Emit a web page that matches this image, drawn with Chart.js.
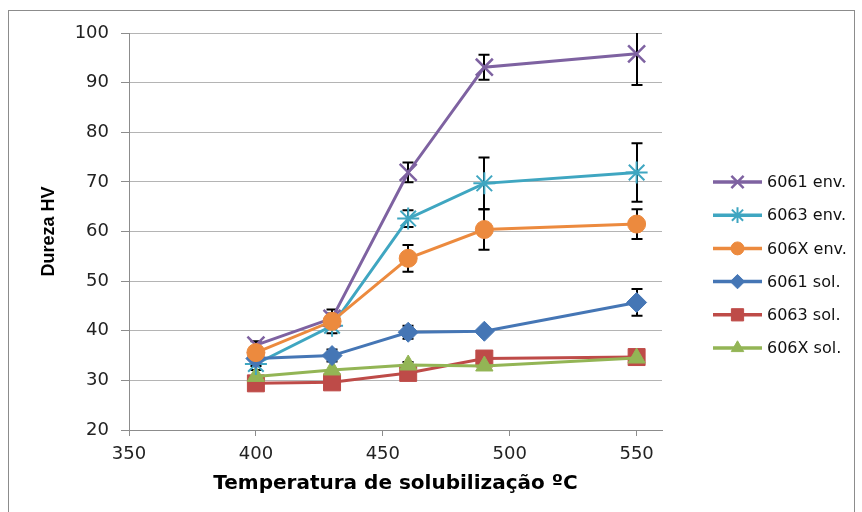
<!DOCTYPE html>
<html>
<head>
<meta charset="utf-8">
<script src="https://cdn.jsdelivr.net/npm/chart.js@4/dist/chart.umd.min.js"></script>
<style>
  body { margin: 0; background: #fff; }
  #wrap { position: relative; width: 862px; height: 512px; overflow: hidden; }
  #frame { position: absolute; left: 8px; top: 10px; width: 845px; height: 520px; border: 1px solid #8c8c8c; }
  canvas { position: absolute; left: 0; top: 0; }
</style>
</head>
<body>
<div id="wrap">
  <div id="frame"></div>
  <canvas id="hvChart" width="862" height="512"></canvas>
</div>
<script>
// Temperaturas de solubilização (ºC)
const temps = [400, 430, 460, 490, 550];

// Dureza HV por liga
const env6061 = [37.1, 42.5, 71.9, 93.1, 95.8];
const env6063 = [33.3, 41.0, 62.6, 69.7, 71.9];
const env606X = [35.6, 41.9, 54.6, 60.4, 61.5];
const sol6061 = [34.4, 35.0, 39.7, 39.9, 45.7];
const sol6063 = [29.4, 29.6, 31.5, 34.4, 34.7];
const sol606X = [30.8, 32.1, 33.1, 32.9, 34.5];

// Barras de erro (+/-)
const errEnv6061 = [0.8, 1.0, 2.0, 2.5, 6.3];
const errEnv6063 = [1.2, 0, 1.7, 5.2, 5.9];
const errEnv606X = [0, 2.4, 2.7, 4.1, 3.0];
const errSol6061 = [1.5, 1.2, 1.3, 0, 2.7];
const errSol6063 = [0, 0, 0, 0, 0];
const errSol606X = [0, 0, 0.6, 0, 0];

const seriesLabels = ['6061 env.', '6063 env.', '606X env.', '6061 sol.', '6063 sol.', '606X sol.'];
const yTicks = [20, 30, 40, 50, 60, 70, 80, 90, 100];
const xTicks = [350, 400, 450, 500, 550];

function pts(vals) {
    return temps.map((t, i) => ({ x: t, y: vals[i] }));
}

function makeSet(label, vals, errs, color, style, radius, bw, order) {
    return {
        label: label,
        data: pts(vals),
        errors: errs,
        borderColor: color,
        backgroundColor: color,
        borderWidth: 3,
        pointStyle: style,
        pointRadius: radius,
        pointBorderWidth: bw,
        pointBackgroundColor: color,
        pointBorderColor: color,
        tension: 0,
        order: order
    };
}

// Barras de erro desenhadas por baixo dos marcadores
const errorBars = {
    id: 'errorBars',
    beforeDatasetsDraw(chart) {
        const { ctx, chartArea, scales } = chart;
        ctx.save();
        ctx.beginPath();
        ctx.rect(chartArea.left, chartArea.top, chartArea.right - chartArea.left, chartArea.bottom - chartArea.top);
        ctx.clip();
        ctx.strokeStyle = '#000';
        ctx.lineWidth = 2;
        chart.data.datasets.forEach(ds => {
            ds.errors.forEach((e, i) => {
                if (!e) return;
                const px = Math.round(scales.x.getPixelForValue(ds.data[i].x));
                const top = scales.y.getPixelForValue(ds.data[i].y + e);
                const bot = scales.y.getPixelForValue(ds.data[i].y - e);
                ctx.beginPath();
                ctx.moveTo(px, top);
                ctx.lineTo(px, bot);
                ctx.moveTo(px - 5.5, top);
                ctx.lineTo(px + 5.5, top);
                ctx.moveTo(px - 5.5, bot);
                ctx.lineTo(px + 5.5, bot);
                ctx.stroke();
            });
        });
        ctx.restore();
    }
};

// Legenda à direita, estilo Excel (linha + marcador)
const sideLegend = {
    id: 'sideLegend',
    afterDraw(chart) {
        const ctx = chart.ctx;
        ctx.save();
        chart.data.datasets.forEach((ds, i) => {
            const y = 182 + i * 33.2;
            ctx.strokeStyle = ds.borderColor;
            ctx.lineWidth = 3.5;
            ctx.beginPath();
            ctx.moveTo(713, y);
            ctx.lineTo(762, y);
            ctx.stroke();
            ctx.fillStyle = ds.pointBackgroundColor;
            ctx.strokeStyle = ds.pointBorderColor;
            ctx.lineWidth = ds.pointBorderWidth;
            Chart.helpers.drawPoint(ctx, {
                pointStyle: ds.pointStyle,
                radius: ds.pointRadius * 0.72,
                rotation: 0,
                borderWidth: ds.pointBorderWidth
            }, 737.5, y);
            ctx.fillStyle = '#111';
            ctx.font = '16px "DejaVu Sans"';
            ctx.textBaseline = 'middle';
            ctx.textAlign = 'left';
            ctx.fillText(ds.label, 767, y + 1);
        });
        ctx.restore();
    }
};

const ctx = document.getElementById('hvChart').getContext('2d');
new Chart(ctx, {
    type: 'line',
    data: {
        datasets: [
            makeSet(seriesLabels[0], env6061, errEnv6061, '#7e62a1', 'crossRot', 12, 2.5, 3),
            makeSet(seriesLabels[1], env6063, errEnv6063, '#3fa6c1', 'star', 11, 2, 4),
            makeSet(seriesLabels[2], env606X, errEnv606X, '#ec8a3e', 'circle', 9, 1, 1),
            makeSet(seriesLabels[3], sol6061, errSol6061, '#4576b5', 'rectRot', 10, 1, 2),
            makeSet(seriesLabels[4], sol6063, errSol6063, '#be4b48', 'rect', 12, 1, 6),
            makeSet(seriesLabels[5], sol606X, errSol606X, '#93b555', 'triangle', 10, 1, 5)
        ]
    },
    options: {
        responsive: false,
        animation: false,
        layout: { padding: { top: 33, right: 200, left: 0, bottom: 0 } },
        plugins: {
            legend: { display: false },
            tooltip: { enabled: false }
        },
        scales: {
            x: {
                type: 'linear',
                min: 350,
                max: 560,
                afterFit(scale) { scale.height = 82; },
                afterBuildTicks(scale) { scale.ticks = xTicks.map(v => ({ value: v })); },
                ticks: {
                    includeBounds: false,
                    padding: 8,
                    color: '#222',
                    font: { family: 'DejaVu Sans', size: 18 }
                },
                grid: { drawOnChartArea: false, tickLength: 6, color: '#8c8c8c' },
                border: { color: '#8c8c8c' },
                title: {
                    display: true,
                    text: 'Temperatura de solubilização ºC',
                    color: '#000',
                    font: { family: 'DejaVu Sans', size: 20, weight: 'bold' },
                    padding: { top: 0, bottom: 16 }
                }
            },
            y: {
                min: 20,
                max: 100,
                afterFit(scale) { scale.width = 129; },
                afterBuildTicks(scale) { scale.ticks = yTicks.map(v => ({ value: v })); },
                ticks: {
                    padding: 12,
                    color: '#222',
                    font: { family: 'DejaVu Sans', size: 18 }
                },
                grid: { color: '#b4b4b4', tickColor: '#8c8c8c', tickLength: 8 },
                border: { color: '#8c8c8c' },
                title: {
                    display: true,
                    text: 'Dureza HV',
                    color: '#000',
                    font: { family: 'Liberation Sans', size: 18, weight: 'bold' },
                    padding: { top: 38, bottom: 0 }
                }
            }
        }
    },
    plugins: [errorBars, sideLegend]
});
</script>
</body>
</html>
